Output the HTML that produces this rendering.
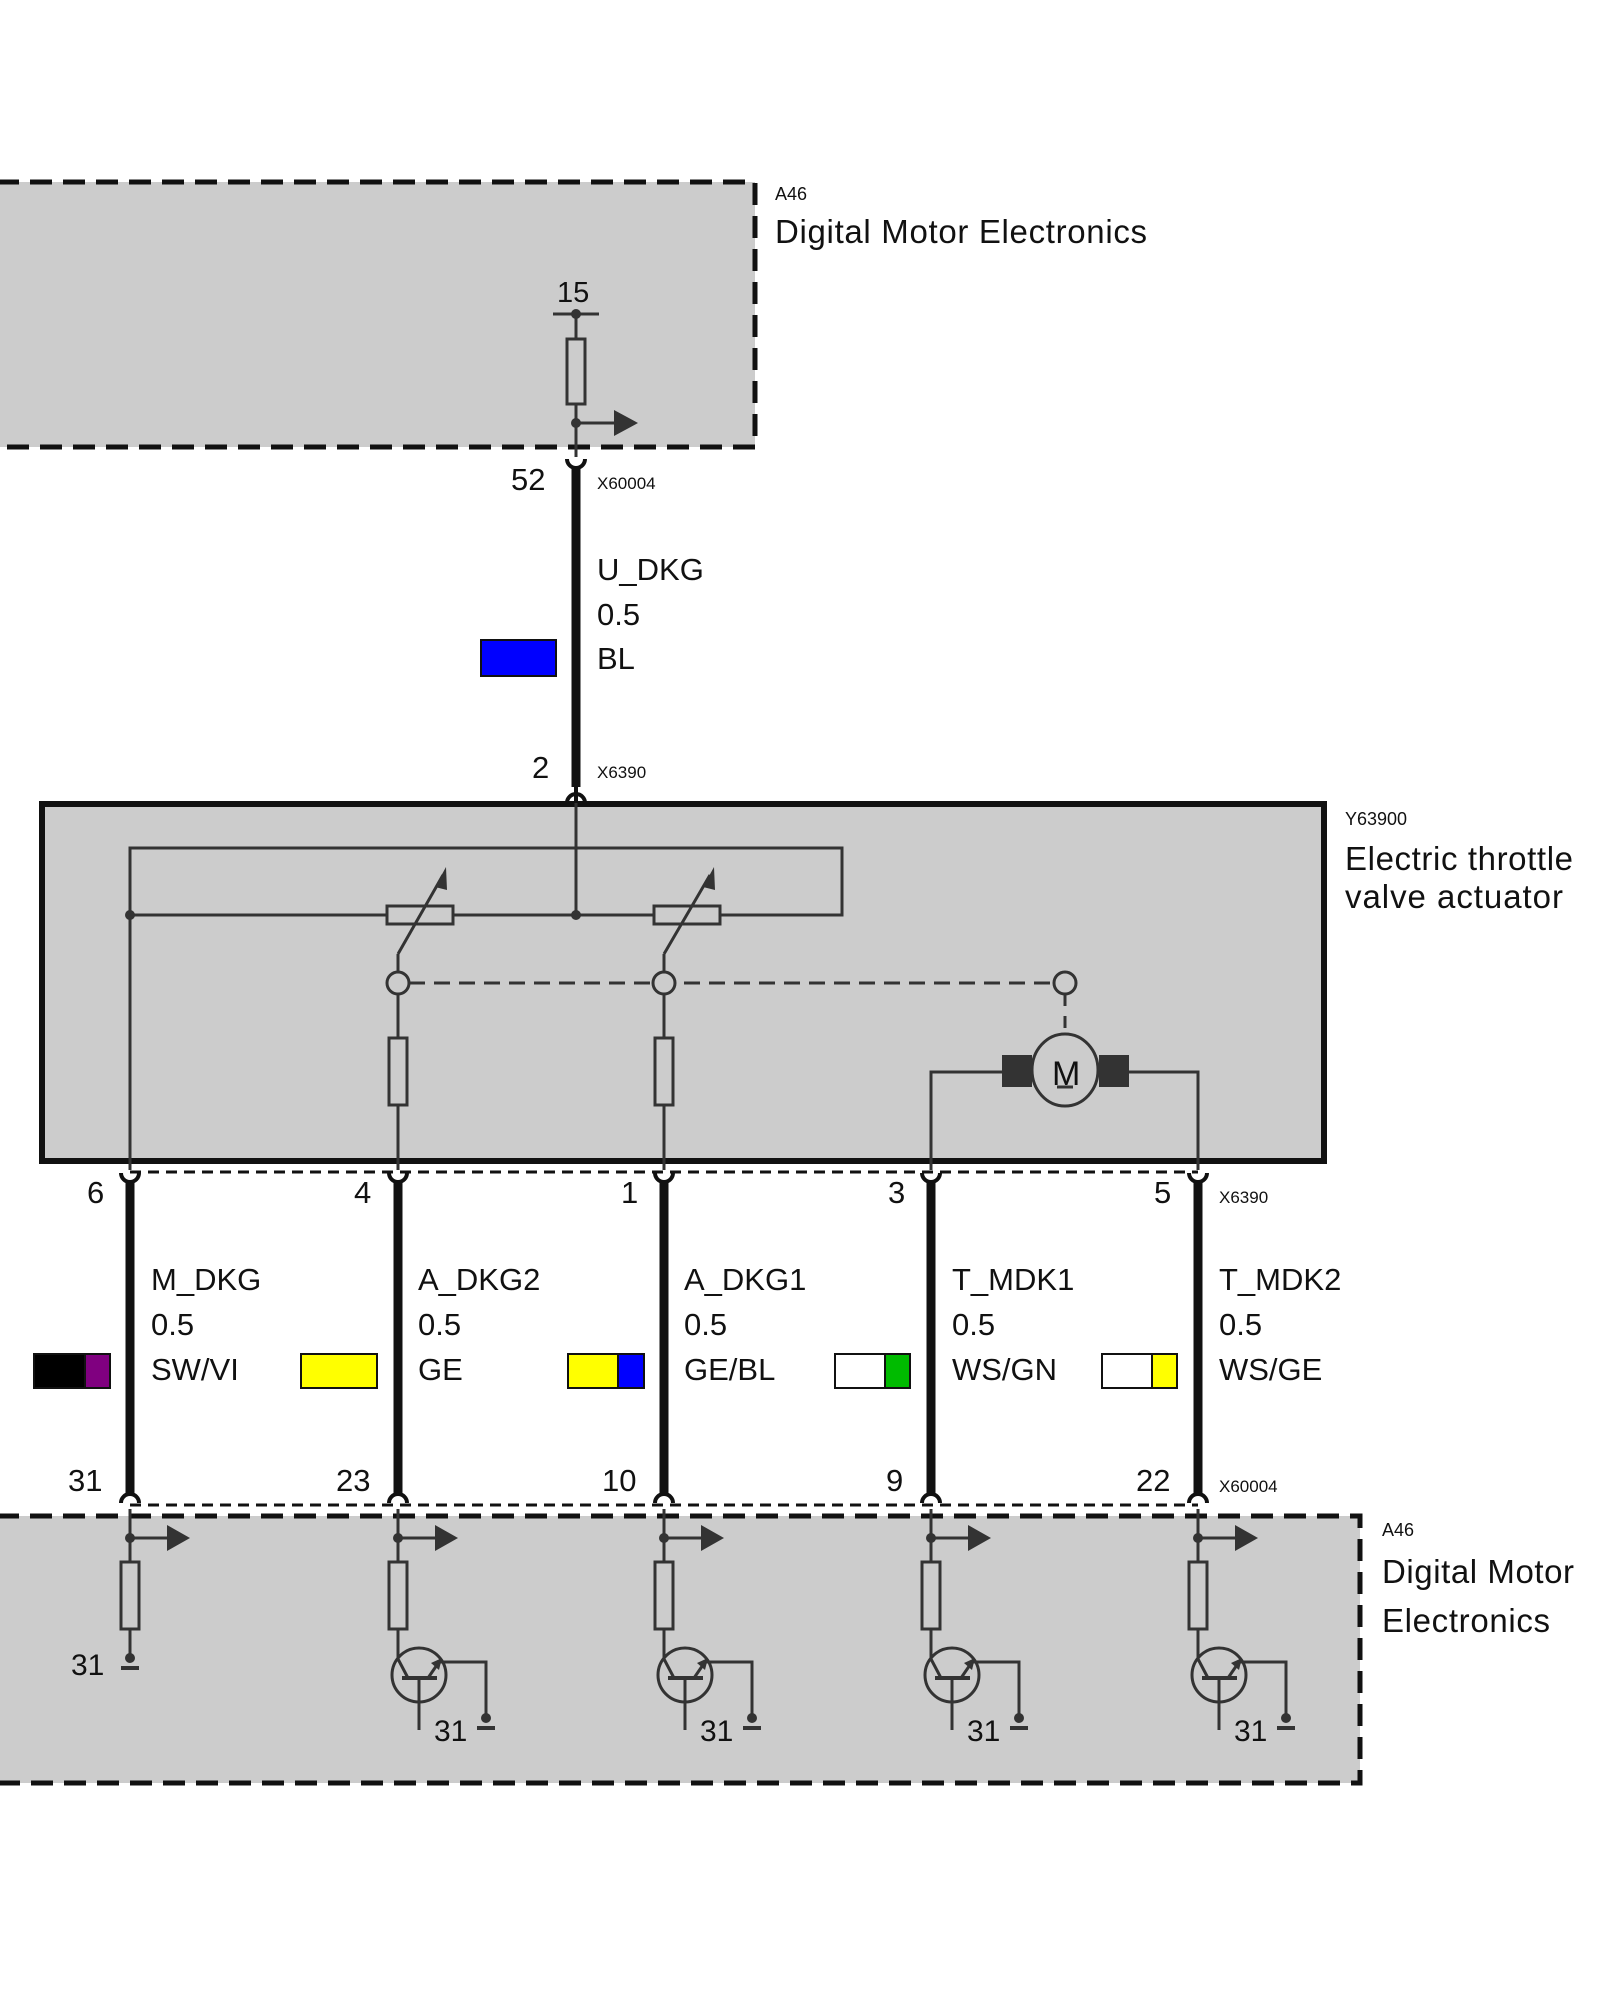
<!DOCTYPE html>
<html><head><meta charset="utf-8"><style>
html,body{margin:0;padding:0;background:#fff;}
svg{display:block;}
text{font-family:"Liberation Sans",Arial,sans-serif;fill:#111;}
</style></head><body>
<svg width="1600" height="2000" viewBox="0 0 1600 2000" xmlns="http://www.w3.org/2000/svg">
<defs>
<g id="bot">
  <line x1="0" y1="1512" x2="0" y2="1565" stroke="#333" stroke-width="3"/>
  <circle cx="0" cy="1541" r="5" fill="#333"/>
  <line x1="0" y1="1541" x2="40" y2="1541" stroke="#333" stroke-width="3"/>
  <polygon points="37,1528 60,1541 37,1554" fill="#333"/>
  <rect x="-9" y="1565" width="18" height="67" fill="none" stroke="#333" stroke-width="3"/>
</g>
<g id="tr">
  <line x1="0" y1="1632" x2="0" y2="1662" stroke="#333" stroke-width="3"/>
  <circle cx="21" cy="1678" r="27" fill="none" stroke="#333" stroke-width="3"/>
  <line x1="0" y1="1662" x2="10" y2="1681" stroke="#333" stroke-width="3"/>
  <line x1="4" y1="1681" x2="39" y2="1681" stroke="#333" stroke-width="4"/>
  <line x1="21" y1="1681" x2="21" y2="1733" stroke="#333" stroke-width="3"/>
  <line x1="30" y1="1681" x2="41" y2="1665" stroke="#333" stroke-width="3"/>
  <polygon points="44,1661 33,1666 41,1673" fill="#333"/>
  <polyline points="41,1665 88,1665 88,1722" fill="none" stroke="#333" stroke-width="3"/>
  <circle cx="88" cy="1721" r="5" fill="#333"/>
  <line x1="79" y1="1731" x2="97" y2="1731" stroke="#333" stroke-width="4"/>
  <text x="36" y="1744" font-size="30">31</text>
</g>
</defs>
<g transform="translate(-3,-3)">
<!-- top A46 box -->
<rect x="-10" y="185" width="768" height="265" fill="#cccccc"/>
<path d="M0 185 H758 V450 H0" fill="none" stroke="#111" stroke-width="5" stroke-dasharray="22,11"/>
<text x="778" y="203" font-size="18">A46</text>
<text x="778" y="246" font-size="33" textLength="372">Digital Motor Electronics</text>
<text x="560" y="305" font-size="29">15</text>
<line x1="556" y1="317" x2="602" y2="317" stroke="#333" stroke-width="3"/>
<circle cx="579" cy="317" r="5" fill="#333"/>
<line x1="579" y1="317" x2="579" y2="460" stroke="#333" stroke-width="3"/>
<rect x="570" y="342" width="18" height="65" fill="#cccccc" stroke="#333" stroke-width="3"/>
<circle cx="579" cy="426" r="5" fill="#333"/>
<line x1="579" y1="426" x2="620" y2="426" stroke="#333" stroke-width="3"/>
<polygon points="617,413 641,426 617,439" fill="#333"/>

<!-- U_DKG wire -->
<path d="M570 462 a9 9 0 0 0 18 0" fill="none" stroke="#111" stroke-width="4"/>
<line x1="579" y1="470" x2="579" y2="790" stroke="#111" stroke-width="9"/>
<path d="M570 806 a9 9 0 0 1 18 0" fill="none" stroke="#111" stroke-width="4"/>
<line x1="579" y1="790" x2="579" y2="806" stroke="#111" stroke-width="4"/>
<text x="514" y="493" font-size="31">52</text>
<text x="600" y="492" font-size="17">X60004</text>
<text x="600" y="583" font-size="31">U_DKG</text>
<text x="600" y="628" font-size="31">0.5</text>
<text x="600" y="672" font-size="31">BL</text>
<rect x="484" y="643" width="75" height="36" fill="#0000ff" stroke="#111" stroke-width="2"/>
<text x="535" y="781" font-size="31">2</text>
<text x="600" y="781" font-size="17">X6390</text>

<!-- actuator box -->
<rect x="45" y="807" width="1282" height="357" fill="#cccccc" stroke="#111" stroke-width="6"/>
<text x="1348" y="828" font-size="18">Y63900</text>
<text x="1348" y="873" font-size="33" textLength="228">Electric throttle</text>
<text x="1348" y="911" font-size="33" textLength="218">valve actuator</text>

<g stroke="#333" stroke-width="3" fill="none">
<polyline points="133,1173 133,851 845,851 845,918 133,918"/>
<line x1="579" y1="806" x2="579" y2="918"/>
<rect x="390" y="909" width="66" height="18" fill="#cccccc"/>
<rect x="657" y="909" width="66" height="18" fill="#cccccc"/>
<line x1="401" y1="957" x2="446" y2="878"/>
<line x1="667" y1="957" x2="713" y2="878"/>
<line x1="401" y1="957" x2="401" y2="975"/>
<line x1="667" y1="957" x2="667" y2="975"/>
<line x1="412" y1="986" x2="1057" y2="986" stroke-dasharray="16,9"/>
<circle cx="401" cy="986" r="11" fill="#cccccc"/>
<circle cx="667" cy="986" r="11" fill="#cccccc"/>
<circle cx="1068" cy="986" r="11" fill="#cccccc"/>
<line x1="401" y1="997" x2="401" y2="1173"/>
<line x1="667" y1="997" x2="667" y2="1173"/>
<rect x="392" y="1041" width="18" height="67" fill="#cccccc"/>
<rect x="658" y="1041" width="18" height="67" fill="#cccccc"/>
<line x1="1068" y1="997" x2="1068" y2="1037" stroke-dasharray="12,10"/>
<polyline points="934,1173 934,1075 1010,1075"/>
<polyline points="1201,1173 1201,1075 1130,1075"/>
</g>
<polygon points="449,870 438,890 450,893" fill="#333"/>
<polygon points="717,870 706,890 718,893" fill="#333"/>
<circle cx="133" cy="918" r="5" fill="#333"/>
<circle cx="579" cy="918" r="5" fill="#333"/>
<rect x="1005" y="1058" width="30" height="32" fill="#333"/>
<rect x="1102" y="1058" width="30" height="32" fill="#333"/>
<ellipse cx="1068" cy="1073" rx="33" ry="36" fill="#cccccc" stroke="#333" stroke-width="3"/>
<text x="1055" y="1088" font-size="34" fill="#333">M</text>
<line x1="1060" y1="1090" x2="1076" y2="1090" stroke="#333" stroke-width="3"/>

<!-- connector dashed lines -->
<line x1="133" y1="1175" x2="1201" y2="1175" stroke="#111" stroke-width="3" stroke-dasharray="11,7"/>
<line x1="133" y1="1508" x2="1201" y2="1508" stroke="#111" stroke-width="3" stroke-dasharray="11,7"/>

<!-- bottom box -->
<rect x="-10" y="1519" width="1373" height="267" fill="#cccccc"/>
<path d="M0 1519 H1363 V1786 H0" fill="none" stroke="#111" stroke-width="5" stroke-dasharray="22,11"/>
<text x="1385" y="1539" font-size="18">A46</text>
<text x="1385" y="1586" font-size="33" textLength="192">Digital Motor</text>
<text x="1385" y="1635" font-size="33" textLength="168">Electronics</text>

<!-- wires -->
<g stroke="#111">
<g stroke-width="4" fill="none">
<path d="M124 1176 a9 9 0 0 0 18 0"/><path d="M392 1176 a9 9 0 0 0 18 0"/><path d="M658 1176 a9 9 0 0 0 18 0"/><path d="M925 1176 a9 9 0 0 0 18 0"/><path d="M1192 1176 a9 9 0 0 0 18 0"/>
<path d="M124 1506 a9 9 0 0 1 18 0"/><path d="M392 1506 a9 9 0 0 1 18 0"/><path d="M658 1506 a9 9 0 0 1 18 0"/><path d="M925 1506 a9 9 0 0 1 18 0"/><path d="M1192 1506 a9 9 0 0 1 18 0"/>
</g>
<g stroke-width="9">
<line x1="133" y1="1184" x2="133" y2="1497"/><line x1="401" y1="1184" x2="401" y2="1497"/><line x1="667" y1="1184" x2="667" y2="1497"/><line x1="934" y1="1184" x2="934" y2="1497"/><line x1="1201" y1="1184" x2="1201" y2="1497"/>
</g>
</g>

<g font-size="31">
<text x="90" y="1206">6</text><text x="357" y="1206">4</text><text x="624" y="1206">1</text><text x="891" y="1206">3</text><text x="1157" y="1206">5</text>
<text x="154" y="1293">M_DKG</text><text x="154" y="1338">0.5</text><text x="154" y="1383">SW/VI</text>
<text x="421" y="1293">A_DKG2</text><text x="421" y="1338">0.5</text><text x="421" y="1383">GE</text>
<text x="687" y="1293">A_DKG1</text><text x="687" y="1338">0.5</text><text x="687" y="1383">GE/BL</text>
<text x="955" y="1293">T_MDK1</text><text x="955" y="1338">0.5</text><text x="955" y="1383">WS/GN</text>
<text x="1222" y="1293">T_MDK2</text><text x="1222" y="1338">0.5</text><text x="1222" y="1383">WS/GE</text>
<text x="71" y="1494">31</text><text x="339" y="1494">23</text><text x="605" y="1494">10</text><text x="889" y="1494">9</text><text x="1139" y="1494">22</text>
</g>
<text x="1222" y="1206" font-size="17">X6390</text>
<text x="1222" y="1495" font-size="17">X60004</text>

<!-- swatches -->
<g stroke="#111" stroke-width="2">
<rect x="37" y="1357" width="51" height="34" fill="#000"/><rect x="88" y="1357" width="25" height="34" fill="#800080"/>
<rect x="304" y="1357" width="76" height="34" fill="#ffff00"/>
<rect x="571" y="1357" width="50" height="34" fill="#ffff00"/><rect x="621" y="1357" width="26" height="34" fill="#0000ff"/>
<rect x="838" y="1357" width="50" height="34" fill="#fff"/><rect x="888" y="1357" width="25" height="34" fill="#00bb00"/>
<rect x="1105" y="1357" width="50" height="34" fill="#fff"/><rect x="1155" y="1357" width="25" height="34" fill="#ffff00"/>
</g>

<!-- bottom circuits -->
<use href="#bot" transform="translate(133,0)"/>
<use href="#bot" transform="translate(401,0)"/>
<use href="#bot" transform="translate(667,0)"/>
<use href="#bot" transform="translate(934,0)"/>
<use href="#bot" transform="translate(1201,0)"/>
<line x1="133" y1="1632" x2="133" y2="1660" stroke="#333" stroke-width="3"/>
<circle cx="133" cy="1661" r="5" fill="#333"/>
<line x1="124" y1="1671" x2="142" y2="1671" stroke="#333" stroke-width="4"/>
<text x="74" y="1678" font-size="30">31</text>
<use href="#tr" transform="translate(401,0)"/>
<use href="#tr" transform="translate(667,0)"/>
<use href="#tr" transform="translate(934,0)"/>
<use href="#tr" transform="translate(1201,0)"/>
</g>
</svg>
</body></html>
